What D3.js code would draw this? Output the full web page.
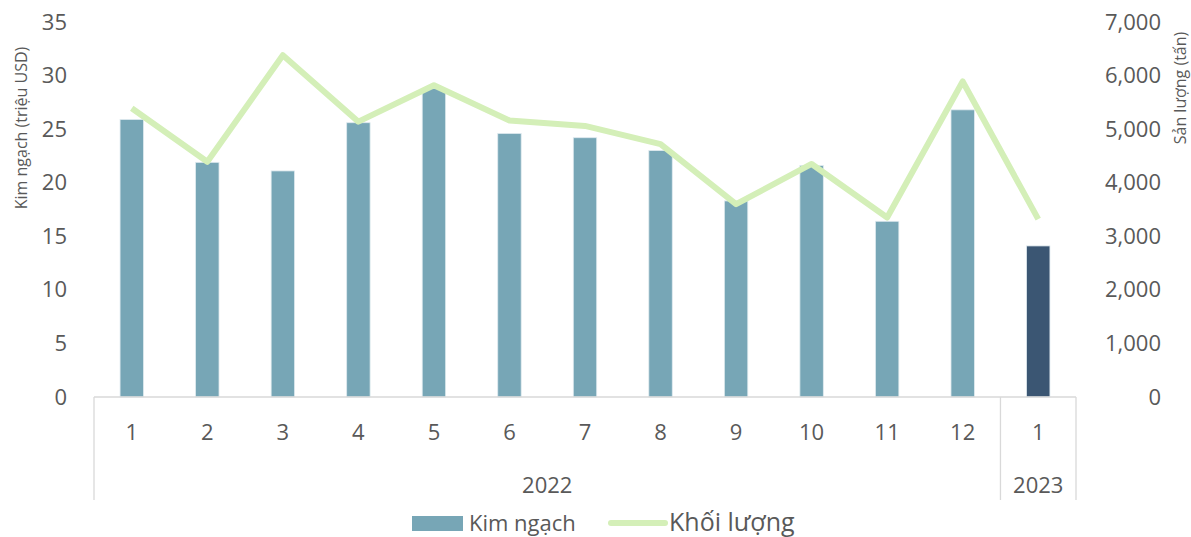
<!DOCTYPE html>
<html>
<head>
<meta charset="utf-8">
<style>
body { margin: 0; background: #fff; }
text { font-family: "Open Sans", "Noto Sans", sans-serif; fill: #595959; }
.tick text { font-size: 22px; }
.domain { display: none; }
.cat-line { stroke: #d9d9d9; stroke-width: 1.3; }
</style>
</head>
<body>
<svg width="1191" height="537"></svg>
<script src="https://d3js.org/d3.v7.min.js"></script>
<script>
// values
var months = ["1", "2", "3", "4", "5", "6", "7", "8", "9", "10", "11", "12", "1"];
var years = ["2022", "2022", "2022", "2022", "2022", "2022", "2022", "2022", "2022", "2022", "2022", "2022", "2023"];
var kimNgach = [25.9, 21.9, 21.1, 25.6, 28.8, 24.6, 24.2, 23.0, 18.3, 21.6, 16.4, 26.8, 14.1];   // triệu USD
var khoiLuong = [5390, 4390, 6380, 5140, 5820, 5160, 5060, 4720, 3600, 4350, 3350, 5890, 3320]; // tấn
var leftTicks = [0, 5, 10, 15, 20, 25, 30, 35];
var rightTicks = [0, 1000, 2000, 3000, 4000, 5000, 6000, 7000];

var svg = d3.select("svg");

var x = d3.scaleBand()
  .domain(d3.range(months.length))
  .range([94, 1076]);

var yL = d3.scaleLinear().domain([0, 35]).range([397, 22]);
var yR = d3.scaleLinear().domain([0, 7000]).range([397, 22]);

var barW = x.bandwidth() * 0.31;

// bars
svg.append("g")
  .selectAll("rect")
  .data(kimNgach)
  .enter().append("rect")
    .attr("x", function(d, i) { return x(i) + x.bandwidth() / 2 - barW / 2; })
    .attr("y", function(d) { return yL(d); })
    .attr("width", barW)
    .attr("height", function(d) { return yL(0) - yL(d); })
    .attr("fill", function(d, i) { return years[i] === "2023" ? "#3b5673" : "#77a6b6"; })
    .attr("stroke", "#dfeaef")
    .attr("stroke-width", 0.8);

// line
var line = d3.line()
  .x(function(d, i) { return x(i) + x.bandwidth() / 2; })
  .y(function(d) { return yR(d); });

svg.append("path")
  .datum(khoiLuong)
  .attr("d", line)
  .attr("fill", "none")
  .attr("stroke", "#d4efb8")
  .attr("stroke-width", 6)
  .attr("stroke-linejoin", "round");

// left axis
svg.append("g")
  .attr("transform", "translate(70,0)")
  .call(d3.axisLeft(yL).tickValues(leftTicks).tickSize(0).tickPadding(3));

// right axis
svg.append("g")
  .attr("transform", "translate(1164,0)")
  .call(d3.axisLeft(yR).tickValues(rightTicks).tickSize(0).tickPadding(3).tickFormat(d3.format(",")));

// category axis (month labels + year groups)
var cat = svg.append("g");
cat.append("line").attr("class", "cat-line")
  .attr("x1", x.range()[0]).attr("x2", x.range()[1]).attr("y1", yL(0)).attr("y2", yL(0));
[x(0), x(12), x.range()[1]].forEach(function(px) {
  cat.append("line").attr("class", "cat-line")
    .attr("x1", px).attr("x2", px).attr("y1", yL(0)).attr("y2", 500);
});

cat.selectAll("text.month")
  .data(months)
  .enter().append("text")
    .attr("class", "month")
    .attr("x", function(d, i) { return x(i) + x.bandwidth() / 2; })
    .attr("y", 440)
    .attr("text-anchor", "middle")
    .style("font-size", "22px")
    .text(function(d) { return d; });

var yearGroups = d3.groups(d3.range(years.length), function(i) { return years[i]; });
yearGroups.forEach(function(g) {
  var idx = g[1];
  var left = x(idx[0]), right = x(idx[idx.length - 1]) + x.bandwidth();
  cat.append("text")
    .attr("x", (left + right) / 2)
    .attr("y", 493)
    .attr("text-anchor", "middle")
    .style("font-size", "22px")
    .text(g[0]);
});

// axis titles
svg.append("text")
  .attr("transform", "translate(27,128) rotate(-90)")
  .attr("text-anchor", "middle")
  .style("font-size", "16px")
  .text("Kim ngạch (triệu USD)");

svg.append("text")
  .attr("transform", "translate(1186,88) rotate(-90)")
  .attr("text-anchor", "middle")
  .style("font-size", "16px")
  .text("Sản lượng (tấn)");

// legend
var lg = svg.append("g");
lg.append("rect").attr("x", 412).attr("y", 516).attr("width", 51).attr("height", 15).attr("fill", "#77a6b6");
lg.append("text").attr("x", 469).attr("y", 531).style("font-size", "22px").text("Kim ngạch");
lg.append("line").attr("x1", 611).attr("x2", 665).attr("y1", 523).attr("y2", 523)
  .attr("stroke", "#d4efb8").attr("stroke-width", 6).attr("stroke-linecap", "round");
lg.append("text").attr("x", 669).attr("y", 531).style("font-size", "25px").text("Khối lượng");
</script>
</body>
</html>
